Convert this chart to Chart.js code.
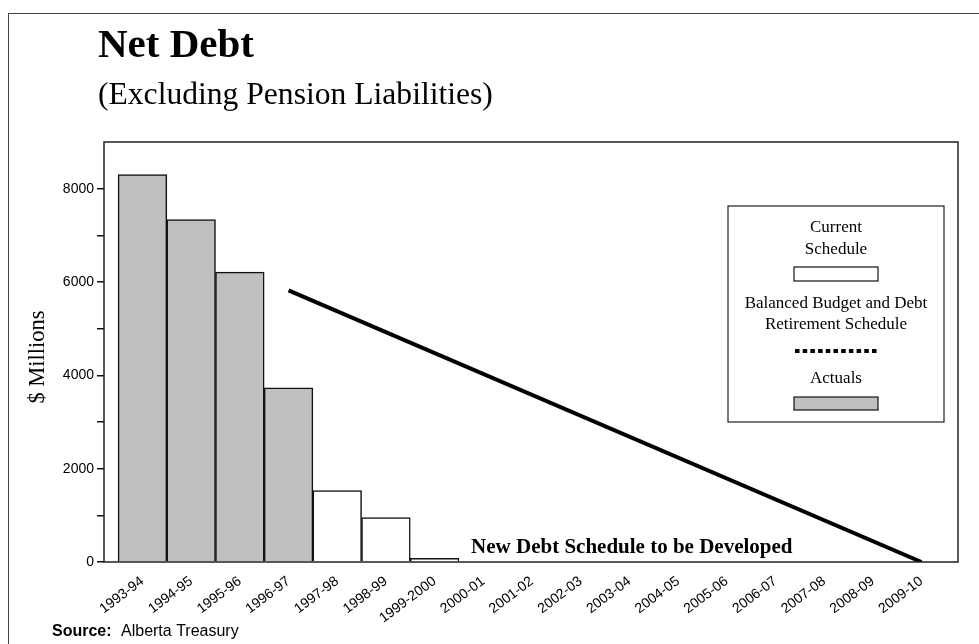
<!DOCTYPE html>
<html>
<head>
<meta charset="utf-8">
<title>Net Debt</title>
<script src="https://cdn.jsdelivr.net/npm/chart.js@4.4.1/dist/chart.umd.min.js"></script>
<style>
  html, body { margin: 0; padding: 0; background: #fff; }
  #wrap { width: 979px; height: 644px; }
</style>
</head>
<body>
<div id="wrap"><canvas id="debtChart" width="979" height="644"></canvas></div>
<script>
const SANS = '"Liberation Sans", Arial, sans-serif';
const SERIF = '"Liberation Serif", "Times New Roman", serif';

// fiscal years along the x axis
const categories = [
  "1993-94", "1994-95", "1995-96", "1996-97", "1997-98", "1998-99", "1999-2000",
  "2000-01", "2001-02", "2002-03", "2003-04", "2004-05", "2005-06", "2006-07",
  "2007-08", "2008-09", "2009-10"
];

// $ millions, one slot per fiscal year (null = no value)
const actuals = [8300, 7340, 6210, 3730, null, null, null, null, null, null, null, null, null, null, null, null, null];
const currentSchedule = [null, null, null, null, 1530, 950, 80, null, null, null, null, null, null, null, null, null, null];
const retirementPlan = [null, null, null, 5820, null, null, null, null, null, null, null, null, null, null, null, null, 0];

const yTicks = [0, 2000, 4000, 6000, 8000];

const toPoints = (arr) => arr
  .map((v, i) => ({ x: i, y: v }))
  .filter((p) => p.y !== null);

const GREY = "#c0c0c0";

// frame, titles, axis title, note, source and the boxed legend
const decorations = {
  id: "decorations",
  afterDraw(chart) {
    const { ctx, chartArea: a, scales } = chart;
    ctx.save();

    // page frame (left and top edges show)
    ctx.strokeStyle = "#444";
    ctx.lineWidth = 1;
    ctx.strokeRect(8.5, 13.5, 1000, 1000);

    // plot box
    ctx.strokeStyle = "#222";
    ctx.lineWidth = 1.5;
    ctx.strokeRect(a.left, a.top, a.right - a.left, a.bottom - a.top);

    ctx.fillStyle = "#000";
    ctx.textAlign = "left";
    ctx.textBaseline = "alphabetic";
    ctx.font = "bold 41px " + SERIF;
    ctx.fillText("Net Debt", 98, 57);
    ctx.font = "31.6px " + SERIF;
    ctx.fillText("(Excluding Pension Liabilities)", 98, 104);

    // y axis title
    ctx.save();
    ctx.translate(38, (a.top + a.bottom) / 2 + 5);
    ctx.rotate(-Math.PI / 2);
    ctx.textAlign = "center";
    ctx.textBaseline = "middle";
    ctx.font = "22.5px " + SERIF;
    ctx.fillText("$ Millions", 0, 0);
    ctx.restore();

    // note along the bottom of the plot
    ctx.textAlign = "center";
    ctx.font = "bold 21px " + SERIF;
    ctx.fillText("New Debt Schedule to be Developed", scales.x.getPixelForValue(10.05), a.bottom - 9);

    // source line
    ctx.textAlign = "left";
    ctx.font = "bold 16px " + SANS;
    ctx.fillText("Source:", 52, 636);
    ctx.font = "16px " + SANS;
    ctx.fillText("Alberta Treasury", 121, 636);

    // legend box
    const lx = a.right - 230, ly = a.top + 64, lw = 216, lh = 216;
    const cx = lx + lw / 2;
    ctx.strokeStyle = "#222";
    ctx.lineWidth = 1.2;
    ctx.strokeRect(lx, ly, lw, lh);

    const ds = chart.data.datasets;
    ctx.textAlign = "center";
    ctx.font = "17px " + SERIF;
    ctx.fillText("Current", cx, ly + 26);
    ctx.fillText("Schedule", cx, ly + 48);
    ctx.fillStyle = ds[1].backgroundColor;
    ctx.fillRect(cx - 42, ly + 61, 84, 14);
    ctx.strokeStyle = ds[1].borderColor;
    ctx.lineWidth = 1.2;
    ctx.strokeRect(cx - 42, ly + 61, 84, 14);

    ctx.fillStyle = "#000";
    ctx.fillText("Balanced Budget and Debt", cx, ly + 102);
    ctx.fillText("Retirement Schedule", cx, ly + 123);
    ctx.strokeStyle = ds[2].borderColor;
    ctx.lineWidth = 4;
    ctx.setLineDash([4.5, 3.2]);
    ctx.beginPath();
    ctx.moveTo(cx - 41, ly + 145);
    ctx.lineTo(cx + 42, ly + 145);
    ctx.stroke();
    ctx.setLineDash([]);

    ctx.fillStyle = "#000";
    ctx.fillText("Actuals", cx, ly + 177);
    ctx.fillStyle = ds[0].backgroundColor;
    ctx.fillRect(cx - 42, ly + 191, 84, 13);
    ctx.strokeStyle = ds[0].borderColor;
    ctx.lineWidth = 1.2;
    ctx.strokeRect(cx - 42, ly + 191, 84, 13);

    ctx.restore();
  }
};

const ctx = document.getElementById("debtChart").getContext("2d");

const chart = new Chart(ctx, {
  type: "bar",
  data: {
    datasets: [
      {
        label: "Actuals",
        data: toPoints(actuals),
        backgroundColor: GREY,
        borderColor: "#111",
        borderWidth: 1.5,
        grouped: false,
        barPercentage: 1,
        categoryPercentage: 1,
      },
      {
        label: "Current Schedule",
        data: toPoints(currentSchedule),
        backgroundColor: "#ffffff",
        borderColor: "#111",
        borderWidth: 1.5,
        grouped: false,
        barPercentage: 1,
        categoryPercentage: 1,
      },
      {
        type: "line",
        label: "Balanced Budget and Debt Retirement Schedule",
        data: toPoints(retirementPlan),
        borderColor: "#000",
        borderWidth: 4,
        pointRadius: 0,
        spanGaps: true,
        fill: false,
      },
    ],
  },
  options: {
    responsive: false,
    animation: false,
    layout: {
      autoPadding: false,
      padding: { left: 0, top: 142, right: 21, bottom: 0 },
    },
    scales: {
      x: {
        type: "linear",
        offset: false,
        min: -0.79,
        max: 16.75,
        afterFit(scale) { scale.height = 82; },
        border: { display: false },
        grid: { display: false, drawTicks: false },
        ticks: {
          stepSize: 1,
          includeBounds: false,
          autoSkip: false,
          minRotation: 37,
          maxRotation: 37,
          padding: 11,
          color: "#000",
          font: { family: SANS, size: 14 },
          callback: (v) => categories[v] ?? "",
        },
      },
      y: {
        min: 0,
        max: 9000,
        afterFit(scale) { scale.width = 104; },
        border: { display: false },
        grid: {
          drawOnChartArea: false,
          drawTicks: true,
          tickLength: 7,
          lineWidth: 1.5,
          tickColor: (c) => (c.tick && c.tick.value === 9000 ? "rgba(0,0,0,0)" : "#111"),
        },
        ticks: {
          stepSize: 1000,
          padding: 3,
          color: "#000",
          font: { family: SANS, size: 14 },
          callback: (v) => (yTicks.includes(v) ? String(v) : ""),
        },
      },
    },
    plugins: {
      legend: { display: false },
      tooltip: { enabled: false },
    },
  },
  plugins: [decorations],
});
</script>
</body>
</html>
